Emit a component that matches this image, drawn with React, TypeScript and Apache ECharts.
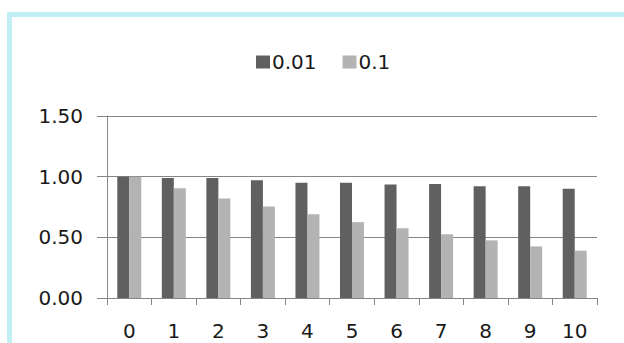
import React, { useEffect, useRef } from "react";
import * as echarts from "echarts";

const categories = ["0", "1", "2", "3", "4", "5", "6", "7", "8", "9", "10"];
const seriesNames = ["0.01", "0.1"];
const series001 = [1.0, 0.99, 0.99, 0.97, 0.95, 0.95, 0.935, 0.94, 0.92, 0.92, 0.9];
const series01 = [1.0, 0.905, 0.82, 0.755, 0.69, 0.625, 0.575, 0.525, 0.475, 0.425, 0.39];
const yTicks = { min: 0, max: 1.5, interval: 0.5 };

const FONT = "DejaVu Sans";
const TEXT = "#1a1a1a";
const AXIS = "#868686";

export default function App() {
  const ref = useRef<HTMLDivElement>(null);
  useEffect(() => {
    if (!ref.current) return;
    const chart = echarts.init(ref.current, undefined, { renderer: "svg" });
    chart.setOption({
      animation: false,
      backgroundColor: "#ffffff",
      textStyle: { fontFamily: FONT, color: TEXT },
      graphic: [
        { type: "rect", shape: { x: 7, y: 12, width: 620, height: 5 }, style: { fill: "#C2EEF6" } },
        { type: "rect", shape: { x: 7, y: 12, width: 5, height: 335 }, style: { fill: "#C2EEF6" } },
      ],
      legend: {
        left: 251,
        top: 47,
        itemWidth: 14,
        itemHeight: 13,
        itemGap: 26,
        icon: "rect",
        data: seriesNames,
        textStyle: { fontFamily: FONT, fontSize: 20, color: TEXT, padding: [0, 0, 0, -3] },
      },
      grid: { left: 107, right: 27, top: 116, bottom: 45, containLabel: false },
      xAxis: {
        type: "category",
        data: categories,
        axisLine: { lineStyle: { color: AXIS, width: 1 } },
        axisTick: { show: true, length: 7, lineStyle: { color: AXIS } },
        axisLabel: { fontFamily: FONT, fontSize: 20, color: TEXT, margin: 23 },
      },
      yAxis: {
        type: "value",
        min: yTicks.min,
        max: yTicks.max,
        interval: yTicks.interval,
        axisLine: { show: true, lineStyle: { color: AXIS, width: 1 } },
        axisTick: { show: true, length: 10, lineStyle: { color: AXIS } },
        splitLine: { lineStyle: { color: AXIS, width: 1 } },
        axisLabel: {
          fontFamily: FONT,
          fontSize: 20,
          color: TEXT,
          margin: 24,
          formatter: (v: number) => v.toFixed(2),
        },
      },
      series: [
        {
          name: seriesNames[0],
          type: "bar",
          data: series001,
          barWidth: 12,
          barGap: "0%",
          itemStyle: { color: "#606060" },
        },
        {
          name: seriesNames[1],
          type: "bar",
          data: series01,
          barWidth: 12,
          barGap: "0%",
          itemStyle: { color: "#b3b3b3" },
        },
      ],
    });
    return () => chart.dispose();
  }, []);
  return (
    <div style={{ position: "fixed", left: 0, top: 0, width: 624, height: 343 }}>
      <div ref={ref} style={{ width: 624, height: 343 }} />
    </div>
  );
}
